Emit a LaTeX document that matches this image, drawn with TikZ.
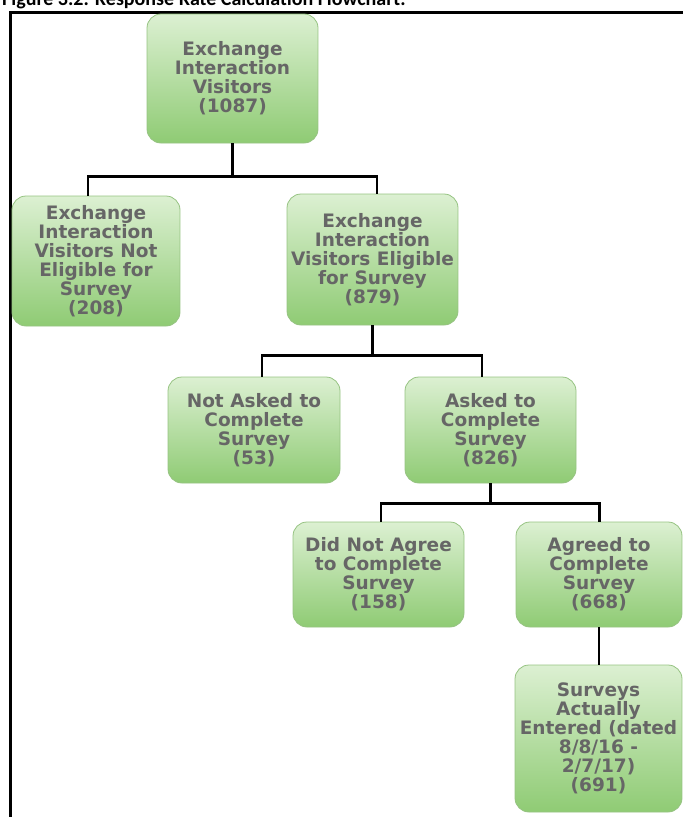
\documentclass[tikz,border=0pt]{standalone}
\usepackage{fontspec}
\setmainfont{DejaVu Sans}
\newfontfamily\titlefont{Carlito}
\definecolor{gtop}{RGB}{220,240,210}
\definecolor{gbot}{RGB}{143,203,116}
\definecolor{boxborder}{RGB}{150,195,130}
\definecolor{txtgray}{RGB}{102,102,102}
\begin{document}
\begin{tikzpicture}[x=1pt,y=-1pt,
  box/.style={draw=boxborder, line width=0.8pt, rounded corners=14pt,
    top color=gtop, bottom color=gbot, text=txtgray,
    font=\bfseries\fontsize{18.5}{19}\selectfont, align=center, inner sep=0pt},
  conn/.style={line width=2.4pt, draw=black},
  frame/.style={line width=3pt, draw=black}]
\useasboundingbox (0,0) rectangle (683,817);
\clip (0,0) rectangle (683,817);
\node[anchor=base west, inner sep=0pt, font=\titlefont\bfseries\fontsize{20}{24}\selectfont] (title) at (2,5.7) {Figure 3.2. Response Rate Calculation Flowchart.};
\coordinate (fbl) at (10.5,817);
\coordinate (ftl) at (10.5,12.5);
\coordinate (ftr) at (683,12.5);
\draw[frame] (fbl) -- (ftl) -- (ftr);

\node[box, minimum width=171pt, minimum height=129pt] (top) at (232.5,78.5) {Exchange\\Interaction\\Visitors\\(1087)};
\node[box, minimum width=168pt, minimum height=130pt] (left) at (96,261) {Exchange\\Interaction\\Visitors Not\\Eligible for\\Survey\\(208)};
\node[box, minimum width=171pt, minimum height=131pt] (elig) at (372.5,259.5) {Exchange\\Interaction\\Visitors Eligible\\for Survey\\(879)};
\node[box, minimum width=172pt, minimum height=106pt] (notasked) at (254,430) {Not Asked to\\Complete\\Survey\\(53)};
\node[box, minimum width=171pt, minimum height=106pt] (asked) at (490.5,430) {Asked to\\Complete\\Survey\\(826)};
\node[box, minimum width=171pt, minimum height=105pt] (didnot) at (378.5,574.5) {Did Not Agree\\to Complete\\Survey\\(158)};
\node[box, minimum width=166pt, minimum height=105pt] (agreed) at (599,574.5) {Agreed to\\Complete\\Survey\\(668)};
\node[box, minimum width=167pt, minimum height=147pt] (surveys) at (598.5,738.5) {Surveys\\Actually\\Entered (dated\\8/8/16 -\\2/7/17)\\(691)};

\draw[conn] (top.south) -- ++(0,33) -| ([xshift=-8pt]left.north);
\draw[conn] (top.south) -- ++(0,33) -| ([xshift=4.5pt]elig.north);
\draw[conn] (elig.south) -- ++(0,30) -| ([xshift=8pt]notasked.north);
\draw[conn] (elig.south) -- ++(0,30) -| ([xshift=-8.5pt]asked.north);
\draw[conn] (asked.south) -- ++(0,20) -| ([xshift=2.5pt]didnot.north);
\draw[conn] (asked.south) -- ++(0,20) -| ([xshift=0.5pt]agreed.north);
\draw[conn] (agreed.south) -- (agreed.south |- surveys.north);
\end{tikzpicture}
\end{document}
